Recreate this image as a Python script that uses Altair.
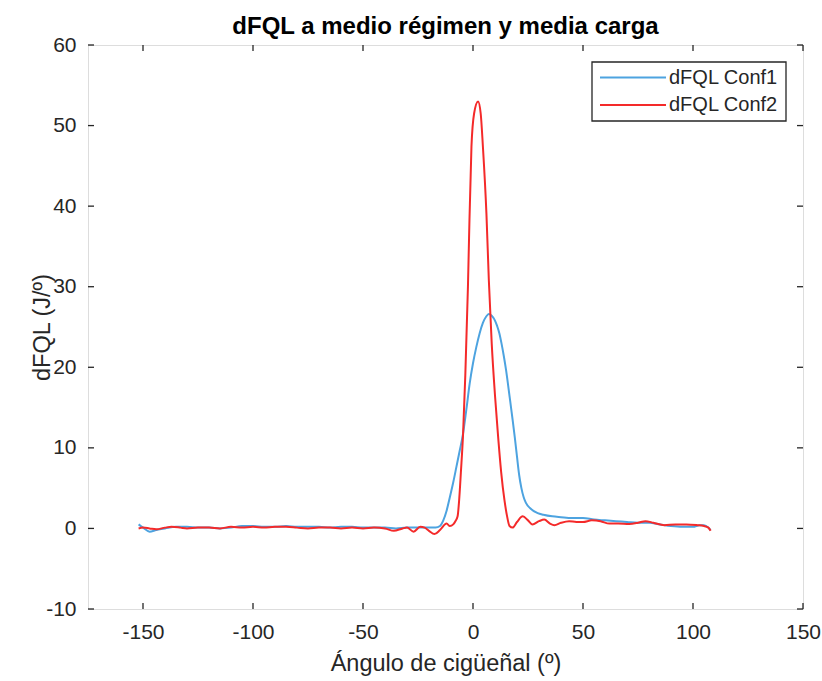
import altair as alt
import pandas as pd

# Crank angle (deg) and heat release rate dFQL (J/deg) for each configuration
conf1_angle = [-152, -150, -147, -144, -140, -135, -130, -125, -120, -115, -110, -105,
               -100, -95, -90, -85, -80, -75, -70, -65, -60, -55, -50, -45, -40, -35,
               -30, -25, -20, -17, -15, -13.5, -12, -10.5, -9, -7.5, -6, -4.5, -3, -1.5,
               0, 1.5, 3, 4.5, 6, 7.2, 8.5, 10, 11, 12, 13, 14, 15, 16, 17, 18, 19, 20,
               21, 22, 23, 24, 26, 29.4, 32, 36, 40, 45, 50, 55, 60, 65, 70, 75, 80, 85,
               90, 95, 100, 103, 105, 107, 108]
conf1_dfql = [0.5, 0.1, -0.4, -0.2, 0.0, 0.2, 0.2, 0.1, 0.1, 0.0, 0.1, 0.3,
              0.3, 0.2, 0.2, 0.3, 0.2, 0.2, 0.2, 0.1, 0.2, 0.2, 0.1, 0.1, 0.1, 0.0,
              0.1, 0.1, 0.1, 0.1, 0.3, 1.0, 2.2, 3.9, 5.7, 7.7, 9.7, 11.8, 14.8, 18.0,
              20.5, 22.5, 24.2, 25.5, 26.3, 26.6, 26.4, 25.8, 25.1, 24.2, 22.9, 21.4, 19.7, 17.7, 15.6, 13.5, 11.3, 8.9,
              6.6, 5.0, 3.9, 3.2, 2.5, 1.9, 1.7, 1.5, 1.4, 1.3, 1.3, 1.1, 1.0, 0.9, 0.8, 0.7, 0.7, 0.5,
              0.3, 0.2, 0.2, 0.4, 0.4, 0.1, -0.2]

conf2_angle = [-152, -150, -147, -144, -140, -137, -133, -130, -125, -120, -115, -110,
               -105, -100, -95, -90, -85, -80, -75, -70, -65, -60, -55, -50, -45, -40,
               -36, -32, -30, -27, -24, -22, -20, -17.5, -15, -12, -10.5, -9, -8, -7,
               -6.3, -5.5, -4.5, -3.5, -2.3, -1.8, -0.7, 0.5, 2.3, 3.5, 4.5, 6.1, 7.2,
               8.5, 10, 11.3, 12.8, 14.3, 15.5, 16.6, 18, 20, 22.6, 25, 27, 30, 32.4,
               35, 37, 40, 43.7, 47, 50, 54, 58, 62, 66, 71, 75, 78.4, 82, 87, 92, 97,
               102, 105, 107, 108]
conf2_dfql = [0.0, 0.1, 0.0, -0.1, 0.1, 0.2, 0.1, 0.0, 0.1, 0.1, 0.0, 0.2,
              0.1, 0.2, 0.1, 0.2, 0.2, 0.1, 0.0, 0.1, 0.1, 0.0, 0.1, 0.0, 0.1, 0.0,
              -0.3, 0.0, 0.1, -0.4, 0.2, 0.1, -0.3, -0.7, -0.2, 0.6, 0.3, 0.5, 0.9, 1.5,
              3.5, 7.0, 11.8, 19.0, 30.0, 36.0, 47.4, 51.5, 53.0, 51.5, 47.4, 39.1, 30.8,
              23.0, 16.5, 11.8, 7.0, 3.5, 1.5, 0.3, 0.1, 0.8, 1.5, 1.0, 0.5, 0.9, 1.1,
              0.6, 0.4, 0.7, 0.9, 0.8, 0.8, 1.0, 0.9, 0.6, 0.6, 0.55, 0.7, 0.9, 0.7, 0.4, 0.5, 0.5,
              0.4, 0.3, 0.1, -0.3]

x_ticks = [-150, -100, -50, 0, 50, 100, 150]
y_ticks = [-10, 0, 10, 20, 30, 40, 50, 60]
series_names = ["dFQL Conf1", "dFQL Conf2"]
series_colors = ["#4DA3E0", "#F42A2A"]

W, H = 715, 564
FONT = "Liberation Sans"
INK = "#262626"
TICK = 6

xs = alt.Scale(domain=[-175, 150], nice=False, zero=False)
ys = alt.Scale(domain=[-10, 60], nice=False, zero=False)

# plain hyphen for negative tick labels
plain_label = "'' + datum.value"

x_axis = alt.Axis(values=x_ticks, title="Ángulo de cigüeñal (º)", grid=False, domain=False,
                  ticks=False, labelFont=FONT, labelFontSize=21, labelColor=INK,
                  labelPadding=12, labelFlush=False, labelOverlap=False,
                  labelExpr=plain_label,
                  titleFont=FONT, titleFontSize=23.5, titleFontWeight="normal",
                  titleColor=INK, titleY=61, titleBaseline="alphabetic")
y_axis = alt.Axis(values=y_ticks, title="dFQL (J/º)", grid=False, domain=False,
                  ticks=False, labelFont=FONT, labelFontSize=21, labelColor=INK,
                  labelPadding=12, labelFlush=False, labelOverlap=False,
                  labelExpr=plain_label,
                  titleFont=FONT, titleFontSize=23.5, titleFontWeight="normal",
                  titleColor=INK, titleX=-39, titleY=H / 2, titleAngle=270,
                  titleAlign="center", titleBaseline="alphabetic")

# every layer carries the same axis spec so the shared axes merge cleanly
X = lambda f: alt.X(f, scale=xs, axis=x_axis)
Y = lambda f: alt.Y(f, scale=ys, axis=y_axis)

blue = alt.Chart(pd.DataFrame({"x": conf1_angle, "y": conf1_dfql})).mark_line(
    color=series_colors[0], strokeWidth=2, interpolate="monotone"
).encode(x=X("x:Q"), y=Y("y:Q"))

red = alt.Chart(pd.DataFrame({"x": conf2_angle, "y": conf2_dfql})).mark_line(
    color=series_colors[1], strokeWidth=2, interpolate="monotone"
).encode(x=X("x:Q"), y=Y("y:Q"))

# inward tick marks on all four sides of the box
xt = pd.DataFrame({"x": x_ticks})
yt = pd.DataFrame({"y": y_ticks})
tick_style = dict(color=INK, strokeWidth=1.3)
xt_bottom = alt.Chart(xt).mark_rule(**tick_style).encode(
    x=X("x:Q"), y=alt.value(H), y2=alt.value(H - TICK))
xt_top = alt.Chart(xt).mark_rule(**tick_style).encode(
    x=X("x:Q"), y=alt.value(0), y2=alt.value(TICK))
yt_left = alt.Chart(yt).mark_rule(**tick_style).encode(
    y=Y("y:Q"), x=alt.value(0), x2=alt.value(TICK))
yt_right = alt.Chart(yt).mark_rule(**tick_style).encode(
    y=Y("y:Q"), x=alt.value(W), x2=alt.value(W - TICK))

# legend box in the upper right corner
LX0, LX1, LY0, LY1 = 504, 698, 17, 76
legend_layers = [
    alt.Chart(pd.DataFrame({"k": [0]})).mark_rect(fill="white", stroke=INK, strokeWidth=1.3).encode(
        x=alt.value(LX0), x2=alt.value(LX1), y=alt.value(LY0), y2=alt.value(LY1))
]
for i, (name, color) in enumerate(zip(series_names, series_colors)):
    yy = 32.5 + 27.5 * i
    legend_layers.append(
        alt.Chart(pd.DataFrame({"label": [name]})).mark_rule(color=color, strokeWidth=2).encode(
            x=alt.value(512), x2=alt.value(578), y=alt.value(yy)))
    legend_layers.append(
        alt.Chart(pd.DataFrame({"label": [name]})).mark_text(
            align="left", baseline="middle", font=FONT, fontSize=20, color=INK
        ).encode(x=alt.value(581), y=alt.value(yy), text="label:N"))

chart = alt.layer(blue, red, xt_bottom, xt_top, yt_left, yt_right, *legend_layers).properties(
    width=W, height=H,
    title=alt.TitleParams("dFQL a medio régimen y media carga", font=FONT, fontSize=24,
                          fontWeight="bold", color="#000000", anchor="middle",
                          frame="group", offset=10, baseline="alphabetic", dy=34),
    autosize=alt.AutoSizeParams(type="none"),
    padding={"left": 88, "top": 45, "right": 19, "bottom": 72},
).configure_view(stroke=INK, strokeWidth=1.5).configure(background="white")

chart.save("out.html", embed_options={"renderer": "svg", "actions": False})
